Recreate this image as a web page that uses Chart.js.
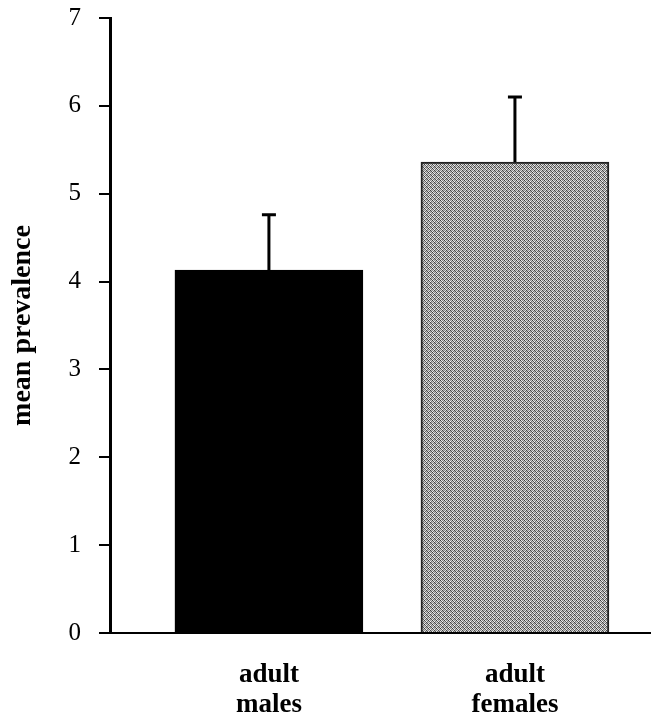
<!DOCTYPE html>
<html>
<head>
<meta charset="utf-8">
<script src="https://cdn.jsdelivr.net/npm/chart.js@4/dist/chart.umd.min.js"></script>
<style>
    html, body { margin: 0; padding: 0; background: #fff; }
    #wrap { width: 652px; height: 716px; }
</style>
</head>
<body>
<div id="wrap"><canvas id="canvas" width="652" height="716"></canvas></div>
<script>
'use strict';

// values
const groups = [['adult', 'males'], ['adult', 'females']];
const groupPos = [1, 2];
const meanPrevalence = [4.13, 5.36];
const errorTop = [4.76, 6.10];
const yTicks = [0, 1, 2, 3, 4, 5, 6, 7];

const ctx = document.getElementById('canvas').getContext('2d');

// stippled gray fill for the females bar
const tile = document.createElement('canvas');
tile.width = 4;
tile.height = 4;
const tctx = tile.getContext('2d');
const shades = [
    '#3a3a3a', '#e8e8e8', '#8a8a8a', '#d0d0d0',
    '#c8c8c8', '#5c5c5c', '#f4f4f4', '#707070',
    '#909090', '#dcdcdc', '#444444', '#bcbcbc',
    '#ececec', '#6a6a6a', '#b0b0b0', '#505050'
];
shades.forEach((c, i) => {
    tctx.fillStyle = c;
    tctx.fillRect(i % 4, Math.floor(i / 4), 1, 1);
});
const grayFill = ctx.createPattern(tile, 'repeat');

// upper error bars only
const errorBars = {
    id: 'errorBars',
    afterDatasetsDraw(chart) {
        const c = chart.ctx;
        const x = chart.scales.x;
        const y = chart.scales.y;
        c.save();
        c.strokeStyle = '#000';
        c.lineWidth = 3;
        groupPos.forEach((p, i) => {
            const px = x.getPixelForValue(p);
            const top = y.getPixelForValue(errorTop[i]);
            const base = y.getPixelForValue(meanPrevalence[i]);
            c.beginPath();
            c.moveTo(px, base);
            c.lineTo(px, top);
            c.moveTo(px - 7, top);
            c.lineTo(px + 7, top);
            c.stroke();
        });
        c.restore();
    }
};

new Chart(ctx, {
    type: 'bar',
    data: {
        datasets: [{
            data: groupPos.map((p, i) => ({ x: p, y: meanPrevalence[i] })),
            backgroundColor: ['#000', grayFill],
            borderColor: ['#000', '#222'],
            borderWidth: 2,
            barThickness: 188
        }]
    },
    options: {
        responsive: false,
        animation: false,
        layout: {
            padding: { top: 18, right: 2, left: 0, bottom: 0 }
        },
        plugins: {
            legend: { display: false },
            tooltip: { enabled: false }
        },
        scales: {
            x: {
                type: 'linear',
                offset: false,
                min: 0.354,
                max: 2.549,
                afterFit: s => { s.height = 83; },
                grid: { display: false, offset: false },
                border: { color: '#000', width: 2 },
                ticks: {
                    stepSize: 1,
                    includeBounds: false,
                    padding: 19,
                    color: '#000',
                    font: { family: 'Liberation Serif', size: 27, weight: 'bold', lineHeight: 1.12 },
                    callback: v => groups[groupPos.indexOf(v)] || ''
                }
            },
            y: {
                min: 0,
                max: 7,
                afterFit: s => {
                    s.width = 110;
                    s.paddingTop = 0;
                    s.paddingBottom = 0;
                },
                afterBuildTicks: s => { s.ticks = yTicks.map(v => ({ value: v })); },
                grid: {
                    drawOnChartArea: false,
                    drawTicks: true,
                    tickLength: 11,
                    lineWidth: 2,
                    color: '#000'
                },
                border: { color: '#000', width: 3 },
                ticks: {
                    padding: 18,
                    color: '#000',
                    font: { family: 'Liberation Serif', size: 25 }
                },
                title: {
                    display: true,
                    text: 'mean prevalence',
                    color: '#000',
                    padding: { top: 6, bottom: 0 },
                    font: { family: 'Liberation Serif', size: 28, weight: 'bold' }
                }
            }
        }
    },
    plugins: [errorBars]
});
</script>
</body>
</html>
